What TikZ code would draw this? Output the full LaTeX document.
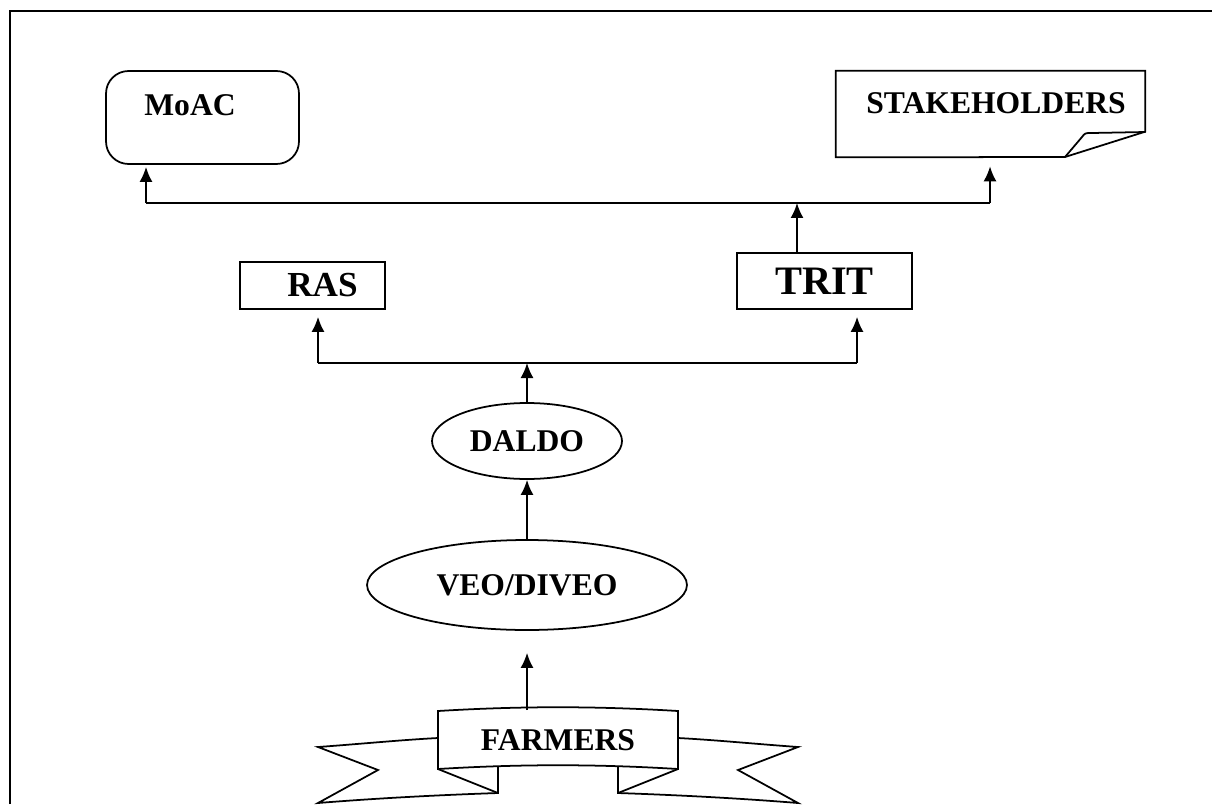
\documentclass[tikz,border=0pt]{standalone}
\usepackage{fontspec}
\setmainfont{Liberation Serif}
\usetikzlibrary{positioning,shapes.geometric,arrows.meta}
\tikzstyle{box} = [rectangle, draw, line width=1pt, inner sep=0pt, text centered]
\tikzstyle{roundbox} = [box, rounded corners=0.45cm]
\tikzstyle{oval} = [ellipse, draw, line width=1pt, inner sep=0pt]
\tikzstyle{wire} = [draw, line width=1pt]
\tikzstyle{line} = [wire, -{Latex[length=0.3cm,width=0.26cm]}]
\tikzstyle{big} = [font=\bfseries\fontsize{18}{20}\selectfont]
\tikzstyle{bigger} = [font=\bfseries\fontsize{23}{26}\selectfont]

\begin{document}
\begin{tikzpicture}[x=0.02cm, y=-0.02cm]
	\useasboundingbox (0,0) rectangle (1212,804);
	\draw[line width=1.2pt] (10,804) -- (10,11) -- (1212,11);

	\node [roundbox, big, minimum width=3.86cm, minimum height=1.86cm] (moac) at (202.5,117.5) {\raisebox{0.5cm}{MoAC\hspace{0.5cm}}};
	\node [big, inner sep=0pt, minimum width=6.18cm, minimum height=1.72cm] (stake) at (990.5,114) {\raisebox{0.44cm}{\hspace{0.22cm}STAKEHOLDERS}};
	\node [box, font=\bfseries\fontsize{20}{24}\selectfont, minimum width=2.9cm, minimum height=0.94cm] (ras) at (312.5,285.5) {\hspace{0.4cm}RAS};
	\node [box, bigger, minimum width=3.5cm, minimum height=1.12cm] (trit) at (824.5,281) {TRIT};
	\node [oval, big, minimum width=3.8cm, minimum height=1.52cm] (daldo) at (527,441) {DALDO};
	\node [oval, big, minimum width=6.4cm, minimum height=1.8cm] (veo) at (527,585) {VEO/DIVEO};
	\node [big, inner sep=0pt, minimum width=4.8cm, minimum height=1.18cm] (farmers) at (558,740) {FARMERS};

	% folded sheet
	\draw[wire] (stake.north west) -- (stake.north east) -- ++(0,61) -- (1065,157) -- (stake.south west) -- cycle;
	\draw[wire] (1065,157) -- (1082,137) .. controls (1085,133) .. (1092,133) -- (1145.5,132);

	% banner
	\draw[wire] (438,711) .. controls (520,706) and (596,706) .. (678,711) -- (678,769) .. controls (596,764) and (520,764) .. (438,769) -- cycle;
	\draw[wire] (438,738) .. controls (400,740) and (360,744) .. (318,747) -- (378,770) -- (318,803) .. controls (380,798) and (440,795) .. (498,793) -- (498,767);
	\draw[wire] (438,769) -- (498,793);
	\draw[wire] (678,738) .. controls (716,740) and (756,744) .. (798,747) -- (738,770) -- (798,803) .. controls (736,798) and (676,795) .. (618,793) -- (618,767);
	\draw[wire] (678,769) -- (618,793);

	\coordinate (tl) at (146,203);
	\coordinate (tj) at (797,203);
	\coordinate (tr) at (990,203);
	\coordinate (bl) at (318,363);
	\coordinate (bj) at (527,363);
	\coordinate (br) at (857,363);

	\path[wire] (tl) -- (tr);
	\path[line, shorten >=0.04cm] (tl) -- (tl |- moac.south);
	\path[line, shorten >=0.18cm] (tr) -- (tr |- stake.south);
	\path[line] (trit.north -| tj) -- (tj);

	\path[wire] (bl) -- (br);
	\path[line, shorten >=0.14cm] (bl) -- (bl |- ras.south);
	\path[line, shorten >=0.14cm] (br) -- (br |- trit.south);
	\path[line] (daldo) -- (bj);
	\path[line] (veo) -- (daldo);
	\path[line, shorten >=0.44cm] (farmers.north -| veo) -- (veo);
\end{tikzpicture}
\end{document}
